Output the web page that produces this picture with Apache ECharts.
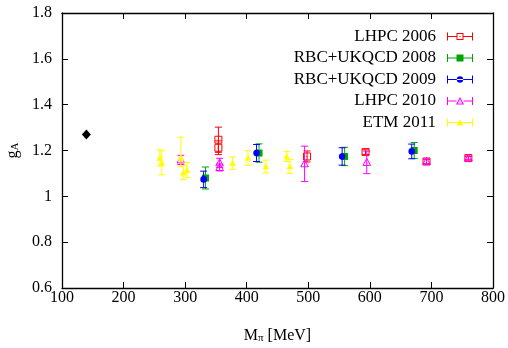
<!DOCTYPE html>
<html>
<head>
<meta charset="utf-8">
<script src="https://cdn.jsdelivr.net/npm/echarts@6/dist/echarts.min.js"></script>
<style>
  html, body {margin: 0; padding: 0; background: #fff;}
  #chart {width: 508px; height: 348px;}
</style>
</head>
<body>
<div id="chart"></div>
<script>
// [M_pi (MeV), g_A, error down, error up]
var lhpc2006 = [[354, 1.247, 0.055, 0.055], [354, 1.212, 0.03, 0.03], [498, 1.174, 0.024, 0.024], [593, 1.193, 0.01, 0.01], [692, 1.152, 0.01, 0.01], [760, 1.167, 0.008, 0.008]];
var rbc2008 = [[333, 1.08, 0.048, 0.048], [420, 1.189, 0.04, 0.04], [559, 1.174, 0.04, 0.04], [672, 1.2, 0.035, 0.035]];
var rbc2009 = [[330, 1.074, 0.036, 0.036], [416, 1.189, 0.037, 0.037], [555, 1.174, 0.038, 0.038], [668, 1.196, 0.032, 0.032]];
var lhpc2010 = [[293, 1.159, 0.02, 0.02], [356, 1.146, 0.02, 0.02], [356, 1.126, 0.015, 0.015], [494, 1.142, 0.077, 0.077], [595, 1.148, 0.049, 0.049], [692, 1.152, 0.01, 0.01], [760, 1.167, 0.008, 0.008]];
var etm2011 = [[259, 1.168, 0.035, 0.035], [262, 1.146, 0.052, 0.052], [293, 1.168, 0.038, 0.09], [297, 1.103, 0.03, 0.03], [303, 1.114, 0.033, 0.033], [377, 1.145, 0.027, 0.027], [402, 1.167, 0.032, 0.032], [431, 1.13, 0.028, 0.028], [465, 1.174, 0.022, 0.022], [470, 1.13, 0.03, 0.03]];
var experiment = [[139.6, 1.2695]];

var seriesNames = ['LHPC 2006', 'RBC+UKQCD 2008', 'RBC+UKQCD 2009', 'LHPC 2010', 'ETM 2011'];
var seriesColors = ['#ff0000', '#00a600', '#0000ff', '#ff00ff', '#ffff00'];

var FONT = '"Liberation Serif", "DejaVu Serif", serif';

// point shapes, drawn around (cx, cy)
function dot(cx, cy, c) {
  return {type: 'rect', shape: {x: cx - 0.5, y: cy - 0.5, width: 1, height: 1}, style: {fill: c}};
}
var markers = {
  openSquare: function (cx, cy, c) {
    return [{type: 'rect', shape: {x: cx - 3.5, y: cy - 3.5, width: 7, height: 7}, style: {stroke: c, fill: null, lineWidth: 1}}, dot(cx, cy, c)];
  },
  square: function (cx, cy, c) {
    return [{type: 'rect', shape: {x: cx - 3.5, y: cy - 3.5, width: 7, height: 7}, style: {fill: c}}];
  },
  circle: function (cx, cy, c) {
    return [{type: 'circle', shape: {cx: cx, cy: cy, r: 3.3}, style: {fill: c}}];
  },
  openTriangle: function (cx, cy, c) {
    return [{type: 'polygon', shape: {points: [[cx, cy - 4], [cx + 3.8, cy + 3], [cx - 3.8, cy + 3]]}, style: {stroke: c, fill: null, lineWidth: 1}}, dot(cx, cy + 0.5, c)];
  },
  triangle: function (cx, cy, c) {
    return [{type: 'polygon', shape: {points: [[cx, cy - 3.5], [cx + 3.3, cy + 2.8], [cx - 3.3, cy + 2.8]]}, style: {fill: c}}];
  }
};
var seriesMarkers = ['openSquare', 'square', 'circle', 'openTriangle', 'triangle'];

// legend samples: error bar with caps and the point in a 26x8 box
var bar = 'M0 3.5H26V4.5H0Z M0 0H1V8H0Z M25 0H26V8H25Z ';
var legendIcons = [
  'path://M0 3.5H9.5V4.5H0Z M16.5 3.5H26V4.5H16.5Z M0 0H1V8H0Z M25 0H26V8H25Z M9.5 0.5H16.5V1.5H9.5Z M9.5 6.5H16.5V7.5H9.5Z M9.5 0.5H10.5V7.5H9.5Z M15.5 0.5H16.5V7.5H15.5Z M12.5 3.5H13.5V4.5H12.5Z',
  'path://' + bar + 'M9.5 0.5H16.5V7.5H9.5Z',
  'path://' + bar + 'M9.8 4A3.2 3.2 0 1 0 16.2 4A3.2 3.2 0 1 0 9.8 4Z',
  'path://M0 3.5H9.5V4.5H0Z M16.5 3.5H26V4.5H16.5Z M0 0H1V8H0Z M25 0H26V8H25Z M13 0L17 7.5L9 7.5Z M13 2.2L10.7 6.5L15.3 6.5Z M12.5 4.5H13.5V5.5H12.5Z',
  'path://' + bar + 'M13 0.8L16.3 7L9.7 7Z'
];

function errorBarRender(shape) {
  return function (params, api) {
    var x = api.value(0), y = api.value(1);
    var p = api.coord([x, y]);
    var lo = api.coord([x, y - api.value(2)]);
    var hi = api.coord([x, y + api.value(3)]);
    var color = api.visual('color');
    var cw = 3.5;
    var ls = {stroke: color, lineWidth: 1};
    var children = [
      {type: 'line', shape: {x1: p[0], y1: hi[1], x2: p[0], y2: lo[1]}, style: ls},
      {type: 'line', shape: {x1: p[0] - cw, y1: hi[1], x2: p[0] + cw, y2: hi[1]}, style: ls},
      {type: 'line', shape: {x1: p[0] - cw, y1: lo[1], x2: p[0] + cw, y2: lo[1]}, style: ls}
    ];
    return {type: 'group', children: children.concat(markers[shape](p[0], p[1], color))};
  };
}

var datasets = [lhpc2006, rbc2008, rbc2009, lhpc2010, etm2011];
var series = datasets.map(function (d, i) {
  return {
    name: seriesNames[i],
    type: 'custom',
    coordinateSystem: 'cartesian2d',
    itemStyle: {color: seriesColors[i]},
    renderItem: errorBarRender(seriesMarkers[i]),
    dimensions: ['m', 'gA', 'errDown', 'errUp'],
    encode: {x: 0, y: 1},
    data: d,
    z: 2 + i
  };
});
series.push({
  name: 'experiment',
  type: 'scatter',
  symbol: 'diamond',
  symbolSize: [9, 10],
  itemStyle: {color: '#000', opacity: 1},
  data: experiment,
  z: 10
});

var axisLine = {show: true, lineStyle: {color: '#000', width: 1.3}};
var tickIn = {show: true, inside: true, length: 6, lineStyle: {color: '#000', width: 1}};
var labelFont = {color: '#000', fontFamily: FONT, fontSize: 16};

var chart = echarts.init(document.getElementById('chart'));
chart.setOption({
  animation: false,
  backgroundColor: '#fff',
  grid: {left: 62, right: 15, top: 13, bottom: 60, containLabel: false, outerBoundsMode: 'none'},
  legend: {
    orient: 'vertical',
    right: 30,
    top: 23,
    align: 'right',
    itemWidth: 26,
    itemHeight: 8,
    itemGap: 4.5,
    selectedMode: false,
    data: seriesNames.map(function (n, i) { return {name: n, icon: legendIcons[i]}; }),
    textStyle: {color: '#000', fontFamily: FONT, fontSize: 17, lineHeight: 16, padding: [0, 6, 0, 0]}
  },
  xAxis: [{
    type: 'value', min: 100, max: 800, interval: 100,
    name: 'M{sub|π} [MeV]', nameLocation: 'middle', nameGap: 39,
    nameTextStyle: {color: '#000', fontFamily: FONT, fontSize: 16, rich: {sub: {fontFamily: FONT, fontSize: 11, verticalAlign: 'bottom', padding: [6, 0, 0, 0]}}},
    axisLine: axisLine, axisTick: tickIn, splitLine: {show: false},
    axisLabel: Object.assign({margin: 2}, labelFont)
  }, {
    type: 'value', position: 'top', min: 100, max: 800, interval: 100,
    axisLine: axisLine, axisTick: tickIn, splitLine: {show: false}, axisLabel: {show: false}
  }],
  yAxis: [{
    type: 'value', min: 0.6, max: 1.8, interval: 0.2,
    name: 'g{sub|A}', nameLocation: 'middle', nameGap: 38, nameRotate: 90,
    nameTextStyle: {color: '#000', fontFamily: FONT, fontSize: 16, rich: {sub: {fontFamily: FONT, fontSize: 11, padding: [6, 0, 0, 0]}}},
    axisLine: axisLine, axisTick: tickIn, splitLine: {show: false},
    axisLabel: Object.assign({margin: 10}, labelFont)
  }, {
    type: 'value', position: 'right', min: 0.6, max: 1.8, interval: 0.2,
    axisLine: axisLine, axisTick: tickIn, splitLine: {show: false}, axisLabel: {show: false}
  }],
  series: series
});
</script>
</body>
</html>
